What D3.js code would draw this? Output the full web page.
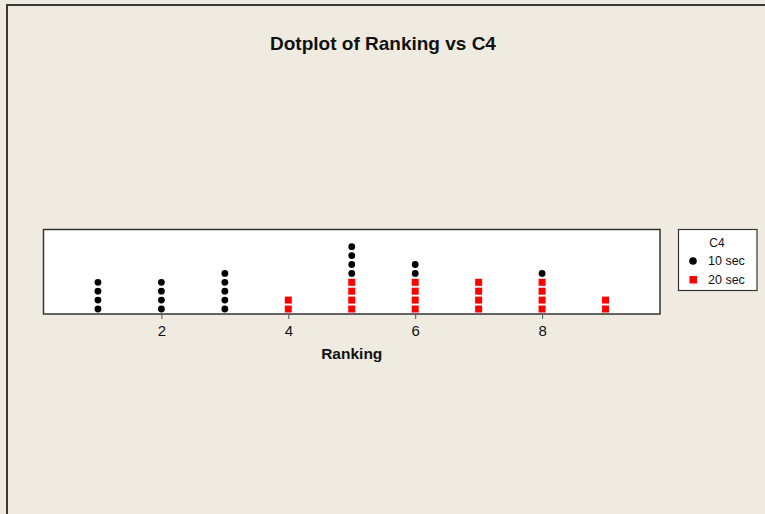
<!DOCTYPE html>
<html>
<head>
<meta charset="utf-8">
<script src="https://cdn.jsdelivr.net/npm/d3@7"></script>
<style>
  html, body { margin: 0; padding: 0; background: #efebe0; }
  svg { display: block; }
</style>
</head>
<body>
<script>
// Data
const rankings = [1, 2, 3, 4, 5, 6, 7, 8, 9];
const groups = ["10 sec", "20 sec"];
const count20 = [0, 0, 0, 2, 4, 4, 4, 4, 2];   // red squares (stacked first)
const count10 = [4, 4, 5, 0, 4, 2, 0, 1, 0];   // black dots (stacked on top)
const xTicks = [2, 4, 6, 8];
const title = "Dotplot of Ranking vs C4";
const xLabel = "Ranking";
const legendTitle = "C4";

const W = 765, H = 514;
const svg = d3.select("body").append("svg").attr("width", W).attr("height", H);

svg.append("rect").attr("width", W).attr("height", H).attr("fill", "#efebe0");
// outer frame (left and top edges visible)
svg.append("line").attr("x1", 7).attr("x2", 7).attr("y1", 4).attr("y2", H).attr("stroke", "#3a3a3a").attr("stroke-width", 2);
svg.append("line").attr("x1", 6).attr("x2", W).attr("y1", 5).attr("y2", 5).attr("stroke", "#3a3a3a").attr("stroke-width", 2);

const plot = { left: 43.5, right: 660, top: 229.5, bottom: 314 };

const x = d3.scaleLinear().domain([0.142, 9.858]).range([plot.left, plot.right]);
const step = 8.9;
const yStack = d3.scaleLinear().domain([0, 1]).range([plot.bottom - 5, plot.bottom - 5 - step]);

svg.append("text").attr("x", 383).attr("y", 49.5)
  .attr("text-anchor", "middle")
  .attr("font-family", "Liberation Sans, Arial, sans-serif")
  .attr("font-weight", "bold").attr("font-size", 19).attr("fill", "#111")
  .text(title);

svg.append("rect").attr("x", plot.left).attr("y", plot.top)
  .attr("width", plot.right - plot.left).attr("height", plot.bottom - plot.top)
  .attr("fill", "#fff").attr("stroke", "#333").attr("stroke-width", 1.5);

// axis
const axis = d3.axisBottom(x).tickValues(xTicks).tickSize(5).tickPadding(6).tickFormat(d3.format("d"));
const gAx = svg.append("g").attr("transform", `translate(0,${plot.bottom})`).call(axis);
gAx.select(".domain").remove();
gAx.selectAll("line").attr("stroke", "#555");
gAx.selectAll("text").attr("font-family", "Liberation Sans, Arial, sans-serif")
  .attr("font-size", 15).attr("fill", "#111");

svg.append("text").attr("x", (plot.left + plot.right) / 2).attr("y", 359)
  .attr("text-anchor", "middle")
  .attr("font-family", "Liberation Sans, Arial, sans-serif")
  .attr("font-weight", "bold").attr("font-size", 15.5).attr("fill", "#111")
  .text(xLabel);

// build stacked points
const pts = [];
rankings.forEach((r, i) => {
  let k = 0;
  for (let j = 0; j < count20[i]; j++) pts.push({ r, k: k++, g: "20 sec" });
  for (let j = 0; j < count10[i]; j++) pts.push({ r, k: k++, g: "10 sec" });
});

const sq = 7;
svg.append("g").selectAll("rect").data(pts.filter(p => p.g === "20 sec")).join("rect")
  .attr("x", p => x(p.r) - sq / 2).attr("y", p => yStack(p.k) - sq / 2)
  .attr("width", sq).attr("height", sq).attr("fill", "#ff0000");
svg.append("g").selectAll("circle").data(pts.filter(p => p.g === "10 sec")).join("circle")
  .attr("cx", p => x(p.r)).attr("cy", p => yStack(p.k)).attr("r", 3.4).attr("fill", "#000");

// legend
const lg = svg.append("g");
lg.append("rect").attr("x", 678.5).attr("y", 229.5).attr("width", 78.5).attr("height", 61)
  .attr("fill", "#fff").attr("stroke", "#333").attr("stroke-width", 1.2);
lg.append("text").attr("x", 717).attr("y", 247).attr("text-anchor", "middle")
  .attr("font-family", "Liberation Sans, Arial, sans-serif").attr("font-size", 12).attr("fill", "#111")
  .text(legendTitle);
lg.append("circle").attr("cx", 693).attr("cy", 261).attr("r", 3.8).attr("fill", "#000");
lg.append("rect").attr("x", 689.5).attr("y", 276).attr("width", 7.5).attr("height", 7.5).attr("fill", "#ff0000");
lg.selectAll("text.item").data(groups).join("text").attr("class", "item")
  .attr("x", 708).attr("y", (d, i) => 265 + i * 19)
  .attr("font-family", "Liberation Sans, Arial, sans-serif").attr("font-size", 12.5).attr("fill", "#111")
  .text(d => d);
</script>
</body>
</html>
